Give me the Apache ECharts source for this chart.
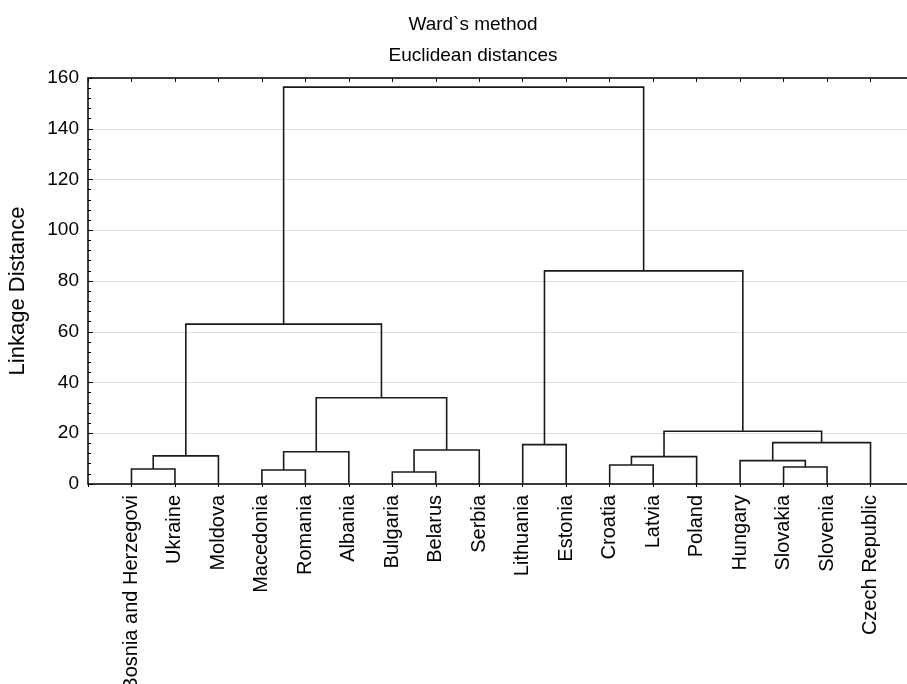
<!DOCTYPE html>
<html>
<head>
<meta charset="utf-8">
<script src="https://cdn.jsdelivr.net/npm/echarts@6/dist/echarts.min.js"></script>
<style>html,body{margin:0;padding:0;background:#fff;}#c{width:907px;height:684px;}</style>
</head>
<body>
<div id="c"></div>
<script>
const titleLines = ['Ward`s method', 'Euclidean distances'];
const yAxisName = 'Linkage Distance';
const leaves = ['Bosnia and Herzegovi','Ukraine','Moldova','Macedonia','Romania','Albania','Bulgaria','Belarus','Serbia','Lithuania','Estonia','Croatia','Latvia','Poland','Hungary','Slovakia','Slovenia','Czech Republic'];
// merges: children are leaf names or 'M<k>' references
const mergeLeft   = ['Bosnia and Herzegovi','M0','Macedonia','M2','Bulgaria','M4','M3','M1','Lithuania','Croatia','M9','Slovakia','Hungary','M12','M10','M8','M7'];
const mergeRight  = ['Ukraine','Moldova','Romania','Albania','Belarus','Serbia','M5','M6','Estonia','Latvia','Poland','Slovenia','M11','Czech Republic','M13','M14','M15'];
const mergeHeight = [5.9, 11.1, 5.5, 12.7, 4.7, 13.4, 34.0, 63.0, 15.5, 7.5, 10.8, 6.7, 9.2, 16.3, 20.8, 84.0, 156.4];
const yTicks = [0, 20, 40, 60, 80, 100, 120, 140, 160];

const nodeX = {}, nodeH = {};
leaves.forEach((n, i) => { nodeX[n] = i + 1; nodeH[n] = 0; });
const links = [];
mergeLeft.forEach((l, k) => {
  const r = mergeRight[k], h = mergeHeight[k];
  links.push([nodeX[l], nodeX[r], nodeH[l], nodeH[r], h]);
  nodeX['M' + k] = (nodeX[l] + nodeX[r]) / 2;
  nodeH['M' + k] = h;
});

const FONT = 'Liberation Sans';
const chart = echarts.init(document.getElementById('c'));
chart.setOption({
  backgroundColor: '#fff',
  animation: false,
  title: [
    { text: titleLines[0], left: 468, top: 10, textAlign: 'center',
      textStyle: { fontFamily: FONT, fontSize: 19, fontWeight: 'normal', color: '#000' } },
    { text: titleLines[1], left: 468, top: 41, textAlign: 'center',
      textStyle: { fontFamily: FONT, fontSize: 19, fontWeight: 'normal', color: '#000' } }
  ],
  grid: { left: 88, top: 78, width: 826, height: 406, containLabel: false, outerBoundsMode: 'none' },
  xAxis: [
    { type: 'value', min: 0, max: leaves.length + 1, interval: 1, position: 'bottom',
      axisLine: { show: true, onZero: false, lineStyle: { color: '#000', width: 1.5 } },
      axisTick: { show: true, inside: false, length: 3, lineStyle: { color: '#000' } },
      splitLine: { show: false },
      axisLabel: { rotate: 90, margin: 11, fontFamily: FONT, fontSize: 20, color: '#000',
        formatter: v => leaves[v - 1] || '' } },
    { type: 'value', min: 0, max: leaves.length + 1, interval: 1, position: 'top',
      axisLine: { show: true, onZero: false, lineStyle: { color: '#000', width: 1.5 } },
      axisTick: { show: true, inside: true, length: 4, lineStyle: { color: '#000' } },
      splitLine: { show: false }, axisLabel: { show: false } }
  ],
  yAxis: {
    type: 'value', min: yTicks[0], max: yTicks[yTicks.length - 1], interval: 20,
    name: yAxisName, nameLocation: 'middle', nameRotate: 90, nameGap: 59,
    nameTextStyle: { fontFamily: FONT, fontSize: 22, color: '#000', padding: [0, 20, 0, 0] },
    axisLine: { show: true, lineStyle: { color: '#000', width: 1.5 } },
    axisTick: { show: true, inside: true, length: 5, lineStyle: { color: '#000' } },
    minorTick: { show: true, splitNumber: 5, length: 3, lineStyle: { color: '#000' } },
    splitLine: { show: true, lineStyle: { color: '#dedede', width: 1 } },
    axisLabel: { fontFamily: FONT, fontSize: 19, color: '#000', margin: 9 }
  },
  series: [{
    type: 'custom',
    xAxisIndex: 0,
    data: links,
    clip: false,
    renderItem: function (params, api) {
      const xl = api.value(0), xr = api.value(1), hl = api.value(2), hr = api.value(3), h = api.value(4);
      const pts = [api.coord([xl, hl]), api.coord([xl, h]), api.coord([xr, h]), api.coord([xr, hr])];
      return { type: 'polyline', shape: { points: pts },
        style: { stroke: '#1a1a1a', lineWidth: 1.6, fill: null } };
    }
  }]
});
</script>
</body>
</html>
